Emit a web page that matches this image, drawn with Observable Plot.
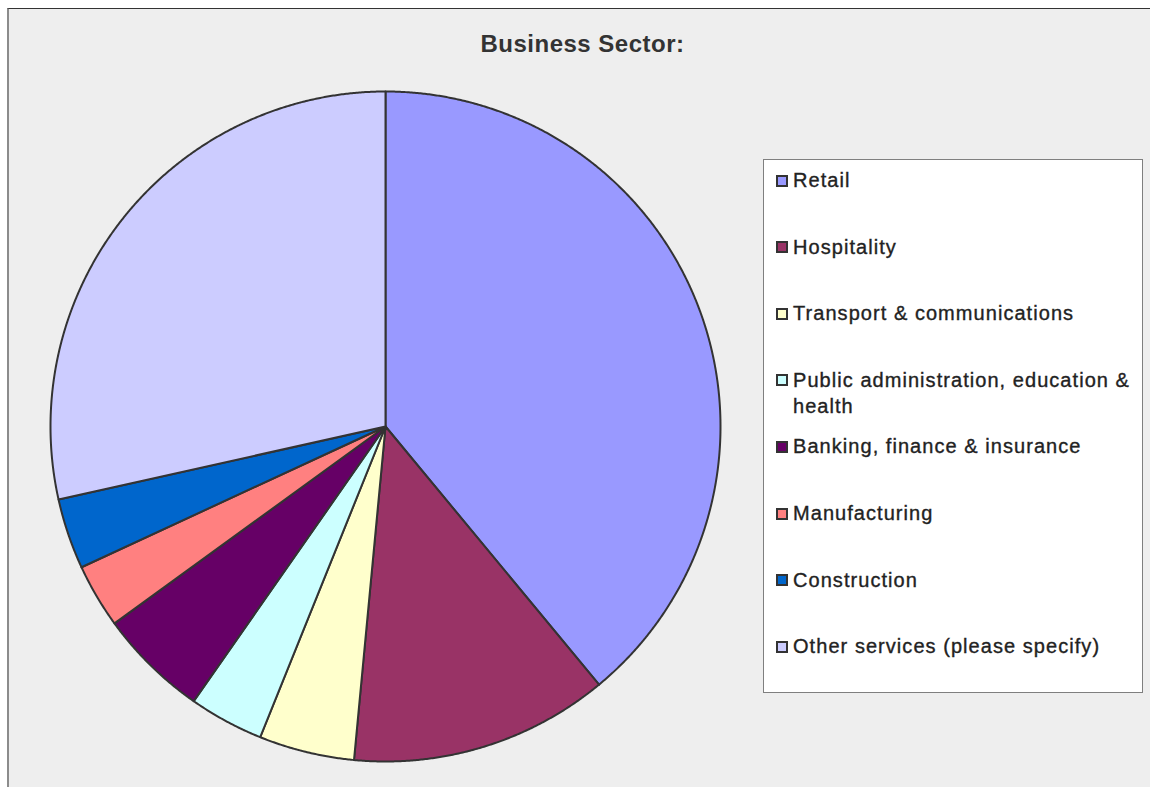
<!DOCTYPE html>
<html><head><meta charset="utf-8">
<script src="https://cdn.jsdelivr.net/npm/d3@7"></script>
<script src="https://cdn.jsdelivr.net/npm/@observablehq/plot@0.6"></script>
<style>
html,body{margin:0;padding:0;background:#fff;overflow:hidden;}
#wrap{position:relative;width:1150px;height:787px;font-family:"Liberation Sans",Arial,sans-serif;overflow:hidden;}
#frame{position:absolute;left:7px;top:8px;width:1160px;height:800px;background:#eeeeee;border-top:1px solid #333;border-left:2px solid #8c8c8c;box-sizing:border-box;}
#chart{position:absolute;left:0;top:0;}
#title{position:absolute;left:582.5px;top:31.7px;transform:translateX(-50%);font-weight:bold;font-size:24px;line-height:24px;letter-spacing:0.5px;color:#333;white-space:nowrap;}
#legendbox{position:absolute;left:763px;top:159px;width:380px;height:534px;background:#fff;border:1px solid #7f7f7f;box-sizing:border-box;}
.sw{position:absolute;left:776px;width:12px;height:12px;border:2px solid #333;box-sizing:border-box;}
.lt{position:absolute;left:793px;width:350px;font-size:20px;line-height:26px;letter-spacing:1.05px;color:#222;-webkit-text-stroke:0.35px #222;}
</style></head>
<body><div id="wrap"><div id="frame"></div><div id="title"></div><div id="chart"></div><div id="legendbox"></div><div id="legend"></div></div>
<script>
const title = "Business Sector:";
const categories = [
  "Retail",
  "Hospitality",
  "Transport & communications",
  "Public administration, education & health",
  "Banking, finance & insurance",
  "Manufacturing",
  "Construction",
  "Other services (please specify)"
];
const values = [39.0, 12.5, 4.6, 3.6, 5.3, 3.1, 3.4, 28.5];
const colors = ["#9999ff", "#993366", "#ffffcc", "#ccffff", "#660066", "#ff8080", "#0066cc", "#ccccff"];

document.getElementById("title").textContent = title;

const arcs = d3.pie().sort(null).value(d => d.value)(
  categories.map((c, i) => ({category: c, value: values[i]}))
);
const slices = arcs.map(a => {
  const pts = [[0, 0]];
  const n = Math.max(2, Math.ceil((a.endAngle - a.startAngle) / (Math.PI / 720)));
  for (let k = 0; k <= n; k++) {
    const t = a.startAngle + (a.endAngle - a.startAngle) * k / n;
    pts.push([Math.sin(t), -Math.cos(t)]);
  }
  pts.push([0, 0]);
  return {type: "Feature", properties: {category: a.data.category}, geometry: {type: "Polygon", coordinates: [pts]}};
});
const D = 1.01;
const domain = {type: "Polygon", coordinates: [[[-D, -D], [D, -D], [D, D], [-D, D], [-D, -D]]]};

const cx = 385, cy = 426, r = 335, half = r * D;
const chart = Plot.plot({
  width: 1150,
  height: 787,
  marginLeft: cx - half,
  marginTop: cy - half,
  marginRight: 1150 - (cx + half),
  marginBottom: 787 - (cy + half),
  style: {background: "transparent", overflow: "visible"},
  projection: {type: "identity", domain},
  color: {domain: categories, range: colors},
  marks: [
    Plot.geo(slices, {fill: d => d.properties.category, stroke: "#333", strokeWidth: 2, strokeLinejoin: "round"})
  ]
});
document.getElementById("chart").appendChild(chart);

const legend = document.getElementById("legend");
const baseline0 = 187, step = 66.6;
categories.forEach((c, i) => {
  const b = baseline0 + i * step;
  const sw = document.createElement("div");
  sw.className = "sw";
  sw.style.top = (b - 12.5) + "px";
  sw.style.background = colors[i];
  legend.appendChild(sw);
  const t = document.createElement("div");
  t.className = "lt";
  t.style.top = (b - 20) + "px";
  t.textContent = c;
  legend.appendChild(t);
});
</script>
</body></html>
